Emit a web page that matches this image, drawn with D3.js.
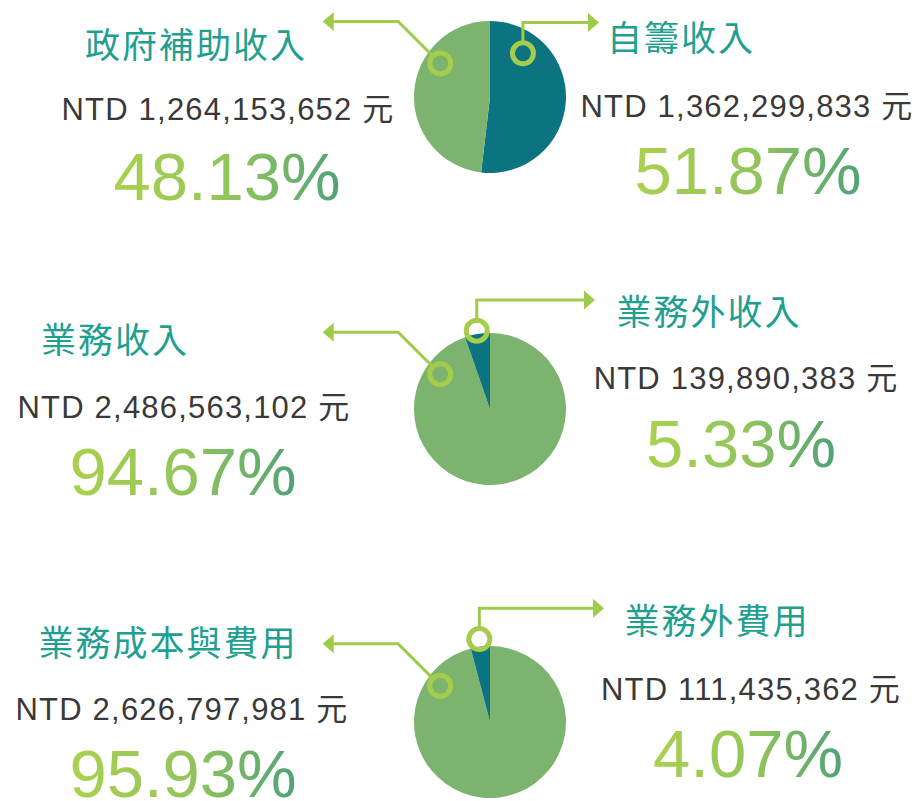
<!DOCTYPE html>
<html>
<head>
<meta charset="utf-8">
<script src="https://cdn.jsdelivr.net/npm/d3@7"></script>
<style>
  html, body { margin: 0; padding: 0; background: #ffffff; }
  svg { display: block; }
</style>
</head>
<body>
<svg id="chart" width="919" height="801"></svg>
<script>
// Revenue / expense composition, three paired pies
const leftLabels   = ["政府補助收入", "業務收入", "業務成本與費用"];
const rightLabels  = ["自籌收入", "業務外收入", "業務外費用"];
const leftAmounts  = [1264153652, 2486563102, 2626797981];
const rightAmounts = [1362299833, 139890383, 111435362];

// Layout of each row (positions only)
const rows = [
  { cy: 97,  rightFirst: true,
    lTitle: [196, 42],  lAmt: [228, 120], lPct: [227, 200],
    rTitle: [681, 35],  rAmt: [747, 117], rPct: [748, 194],
    lAnchor: { ang: -56, rf: 0.79 }, rAnchor: { ang: 37, rf: 0.72 }, rTip: 599 },
  { cy: 409, rightFirst: false,
    lTitle: [115, 337], lAmt: [184, 418], lPct: [183, 495],
    rTitle: [709, 309], rAmt: [746, 389], rPct: [741, 467],
    lAnchor: { ang: -55, rf: 0.80 }, rAnchor: { ang: null, rf: 1.045 }, rTip: 595 },
  { cy: 722, rightFirst: false,
    lTitle: [168, 640], lAmt: [182, 720], lPct: [183, 797],
    rTitle: [717, 618], rAmt: [751, 700], rPct: [748, 777],
    lAnchor: { ang: -54, rf: 0.81 }, rAnchor: { ang: null, rf: 1.10 }, rTip: 604 }
];

const CX = 490, R = 76;
const GREEN = "#7cb46f", TEAL = "#0b7480", LEADER = "#9fcb4a";
const TITLE_C = "#1e9f8f", AMT_C = "#3b3838";
const latin = "'Liberation Sans', Arial, 'Noto Sans CJK TC', sans-serif";
const cjk = "'Noto Sans CJK TC', 'Noto Sans CJK SC', sans-serif";

const svg = d3.select("#chart");
const defs = svg.append("defs");
const grad = defs.append("linearGradient").attr("id", "pctGrad")
  .attr("x1", "0").attr("y1", "0").attr("x2", "1").attr("y2", "0");
grad.append("stop").attr("offset", "0").attr("stop-color", "#abd14e");
grad.append("stop").attr("offset", "0.55").attr("stop-color", "#90c45b");
grad.append("stop").attr("offset", "1").attr("stop-color", "#4fa277");

const fmtAmt = v => "NTD " + d3.format(",")(v) + " 元";
const fmtPct = d3.format(".2%");
const arc = d3.arc().innerRadius(0).outerRadius(R);
const rad = a => a * Math.PI / 180;
const RING = 10.5;

rows.forEach((row, i) => {
  const L = leftAmounts[i], Rt = rightAmounts[i], total = L + Rt;
  const slices = row.rightFirst
    ? [{ v: Rt, c: TEAL, side: "r" }, { v: L, c: GREEN, side: "l" }]
    : [{ v: L, c: GREEN, side: "l" }, { v: Rt, c: TEAL, side: "r" }];
  const arcs = d3.pie().sort(null).value(d => d.v)(slices);

  const g = svg.append("g").attr("transform", `translate(${CX},${row.cy})`);
  g.selectAll("path.slice").data(arcs).join("path")
    .attr("class", "slice")
    .attr("d", arc)
    .attr("fill", d => d.data.c);

  // anchors of the leader rings
  const teal = arcs.find(a => a.data.side === "r");
  const rAng = row.rAnchor.ang !== null ? rad(row.rAnchor.ang) : (teal.startAngle + teal.endAngle) / 2 - 2 * Math.PI * (row.rightFirst ? 0 : 1);
  const lA = rad(row.lAnchor.ang);
  const lp = [CX + Math.sin(lA) * R * row.lAnchor.rf, row.cy - Math.cos(lA) * R * row.lAnchor.rf];
  const rp = [CX + Math.sin(rAng) * R * row.rAnchor.rf, row.cy - Math.cos(rAng) * R * row.rAnchor.rf];

  const lead = svg.append("g");
  // left leader: 45° up-left, then horizontal to arrow
  const d45 = 42;
  const lElbow = [lp[0] - d45, lp[1] - d45];
  const lTip = lElbow[0] - 75.5;
  const o = RING * Math.SQRT1_2;
  lead.append("path")
    .attr("d", `M${lp[0] - o},${lp[1] - o}L${lElbow[0]},${lElbow[1]}L${lTip + 10},${lElbow[1]}`)
    .attr("fill", "none").attr("stroke", LEADER).attr("stroke-width", 3);
  lead.append("path")
    .attr("d", `M${lTip},${lElbow[1]}L${lTip + 11},${lElbow[1] - 9.5}L${lTip + 11},${lElbow[1] + 9.5}Z`)
    .attr("fill", LEADER);

  // right leader: vertical up, then horizontal to arrow
  const rTop = rp[1] - 30.8;
  lead.append("path")
    .attr("d", `M${rp[0]},${rp[1] - RING}L${rp[0]},${rTop}L${row.rTip - 10},${rTop}`)
    .attr("fill", "none").attr("stroke", LEADER).attr("stroke-width", 3);
  lead.append("path")
    .attr("d", `M${row.rTip},${rTop}L${row.rTip - 11},${rTop - 9.5}L${row.rTip - 11},${rTop + 9.5}Z`)
    .attr("fill", LEADER);

  [lp, rp].forEach(p => lead.append("circle")
    .attr("cx", p[0]).attr("cy", p[1]).attr("r", RING)
    .attr("fill", "none").attr("stroke", "#a6cc4c").attr("stroke-width", 5));

  // labels
  const put = (pos, txt, opts) => svg.append("text")
    .attr("x", pos[0]).attr("y", pos[1])
    .attr("text-anchor", "middle")
    .attr("dominant-baseline", opts.central ? "central" : "alphabetic")
    .attr("font-family", opts.ff).attr("font-size", opts.fs)
    .attr("letter-spacing", opts.ls || 0)
    .attr("fill", opts.fill)
    .text(txt);

  put(row.lTitle, leftLabels[i],  { ff: cjk, fs: 35, ls: 2, fill: TITLE_C, central: true });
  put(row.rTitle, rightLabels[i], { ff: cjk, fs: 35, ls: 2, fill: TITLE_C, central: true });
  put(row.lAmt, fmtAmt(L),  { ff: latin, fs: 31, ls: 1.2, fill: AMT_C });
  put(row.rAmt, fmtAmt(Rt), { ff: latin, fs: 31, ls: 1.2, fill: AMT_C });
  put(row.lPct, fmtPct(L / total),  { ff: latin, fs: 67, fill: "url(#pctGrad)" });
  put(row.rPct, fmtPct(Rt / total), { ff: latin, fs: 67, fill: "url(#pctGrad)" });
});
</script>
</body>
</html>
